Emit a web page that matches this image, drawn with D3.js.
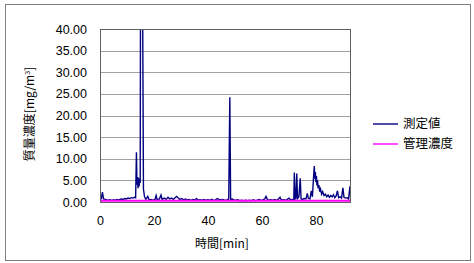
<!DOCTYPE html>
<html>
<head>
<meta charset="utf-8">
<script src="https://cdn.jsdelivr.net/npm/d3@7.9.0/dist/d3.min.js"></script>
<style>
  body { margin: 0; background: #fff; }
  text { font-family: "Liberation Sans", "Noto Sans CJK JP", sans-serif; fill: #000; }
</style>
</head>
<body>
<svg id="chart" width="474" height="263"></svg>
<script>
// measured concentration, [minute, mg/m3]
const measured = [
  [0, 0.6], [0.5, 0.8], [0.9, 2.3], [1.3, 0.7], [2, 0.6], [2.6, 0.5], [3.2, 0.4],
  [3.8, 0.5], [4.4, 0.3], [5, 0.5], [5.6, 0.4], [6.2, 0.6], [6.8, 0.5], [7.4, 0.6],
  [8, 0.7], [8.6, 0.6], [9.2, 0.8], [9.8, 0.7], [10.4, 0.9], [11, 0.8], [11.6, 1.0],
  [12.2, 0.9], [12.8, 1.1], [13.2, 1.0], [13.5, 11.5], [13.7, 4.0], [13.9, 5.8],
  [14.1, 3.2], [14.3, 5.6], [14.5, 3.6], [14.7, 5.2], [14.9, 4.4], [15.0, 45],
  [15.8, 45], [16.1, 3.0], [16.5, 1.2], [17, 0.6],
  [17.7, 1.3], [18.2, 0.5], [19, 0.6], [19.6, 0.4], [20.4, 0.6], [20.8, 1.5],
  [21.2, 0.5], [22, 0.7], [22.6, 1.6], [23, 0.6], [23.8, 0.9], [24.5, 0.6],
  [25.2, 1.1], [25.8, 0.7], [26.5, 0.9], [27.2, 0.6], [27.8, 1.0], [28.4, 1.3],
  [29, 0.9], [29.6, 0.6], [30.3, 0.8], [31, 0.5], [31.7, 0.7], [32.4, 0.5],
  [33, 0.6], [33.7, 0.4], [34.4, 0.6], [35, 0.5], [35.8, 0.8], [36.4, 0.4],
  [37, 0.5], [37.8, 0.4], [38.5, 0.6], [39.2, 0.4], [40, 0.5], [40.7, 0.4],
  [41.4, 0.6], [42, 0.4], [42.8, 0.5], [43.5, 0.8], [44.1, 0.6], [44.8, 0.5],
  [45.5, 0.6], [46.2, 0.4], [47, 0.5], [47.7, 0.7], [48.1, 24.2], [48.4, 0.6],
  [49, 0.7], [49.6, 0.5], [50.3, 0.4], [51, 0.5], [51.8, 0.3], [52.5, 0.4],
  [53.2, 0.3], [54, 0.4], [54.7, 0.3], [55.4, 0.4], [56.1, 0.3], [56.8, 0.5],
  [57.5, 0.3], [58.2, 0.4], [59, 0.6], [59.7, 0.4], [60.4, 0.5], [61, 0.7],
  [61.5, 1.3], [62, 0.6], [62.6, 0.4], [63.3, 0.5], [64, 0.4], [64.7, 0.6],
  [65.4, 0.4], [66, 0.6], [66.7, 1.1], [67.2, 0.4], [68, 0.5], [68.7, 0.4],
  [69.4, 0.6], [70, 0.9], [70.6, 0.5], [71.3, 0.6], [71.8, 0.5], [72.0, 6.8],
  [72.3, 0.7], [72.6, 0.8], [72.9, 6.6], [73.2, 0.8], [73.7, 1.2], [74.2, 5.5],
  [74.5, 0.7], [75, 0.6], [75.6, 0.8], [76.3, 0.7], [76.8, 2.0], [77.2, 0.8],
  [77.8, 0.7], [78.3, 2.6], [78.7, 1.2], [79.1, 5.5], [79.4, 8.3], [79.6, 5.4],
  [79.8, 6.9], [80, 4.6], [80.2, 6.0], [80.4, 3.8], [80.6, 5.0], [80.8, 3.2],
  [81.1, 3.9], [81.4, 2.4], [81.7, 3.0], [82.1, 1.8], [82.5, 2.4], [83, 1.5],
  [83.5, 1.8], [84, 1.2], [84.5, 1.6], [85, 1.1], [85.5, 1.5], [86, 1.2],
  [86.5, 1.7], [87, 1.0], [87.5, 1.4], [88, 2.6], [88.4, 1.0], [89, 1.2],
  [89.5, 0.9], [90, 3.3], [90.4, 1.1], [91, 0.9], [91.6, 1.0], [92.1, 0.7],
  [92.6, 3.6], [92.9, 0.9], [93, 1.8]
];

// control concentration
const control = [[0, 0.3], [93, 0.3]];

const yTicks = [0, 5, 10, 15, 20, 25, 30, 35, 40];
const xTicks = [0, 20, 40, 60, 80];

const seriesNames = ['測定値', '管理濃度'];
const seriesColors = ['#000080', '#ff00ff'];

const svg = d3.select('#chart');

const plot = { left: 100, top: 29, right: 351, bottom: 202 };

const x = d3.scaleLinear().domain([0, 93]).range([plot.left, plot.right]);
const y = d3.scaleLinear().domain([0, 40]).range([plot.bottom, plot.top]);

// outer chart border
svg.append('rect')
  .attr('x', 5.5).attr('y', 4.5)
  .attr('width', 465).attr('height', 256)
  .attr('fill', '#fff')
  .attr('stroke', '#808080');

svg.append('defs').append('clipPath').attr('id', 'clip')
  .append('rect')
  .attr('x', plot.left).attr('y', plot.top)
  .attr('width', plot.right - plot.left)
  .attr('height', plot.bottom - plot.top);

// gridlines
svg.append('g')
  .selectAll('line')
  .data(yTicks.slice(1, -1))
  .join('line')
  .attr('x1', plot.left).attr('x2', plot.right)
  .attr('y1', d => Math.round(y(d)) + 0.5)
  .attr('y2', d => Math.round(y(d)) + 0.5)
  .attr('stroke', '#a0a0a0');

// axes (labels only)
const yAxis = svg.append('g')
  .attr('transform', `translate(${plot.left - 13},0)`)
  .call(d3.axisLeft(y).tickValues(yTicks).tickFormat(d3.format('.2f')).tickSize(0));
yAxis.select('.domain').remove();
yAxis.selectAll('text').attr('x', 0).style('font-size', '12.5px');

const xAxis = svg.append('g')
  .attr('transform', `translate(0,${plot.bottom + 12})`)
  .call(d3.axisBottom(x).tickValues(xTicks).tickFormat(d3.format('d')).tickSize(0));
xAxis.select('.domain').remove();
xAxis.selectAll('text').attr('y', 2).style('font-size', '12.5px');

// lines
const line = d3.line().x(d => x(d[0])).y(d => y(d[1]));

const lines = svg.append('g').attr('clip-path', 'url(#clip)');
lines.append('path')
  .datum(measured)
  .attr('fill', 'none')
  .attr('stroke', seriesColors[0])
  .attr('stroke-width', 1.4)
  .attr('d', line);
lines.append('path')
  .datum(control)
  .attr('fill', 'none')
  .attr('stroke', seriesColors[1])
  .attr('stroke-width', 2)
  .attr('d', line);

// plot frame
svg.append('rect')
  .attr('x', plot.left + 0.5).attr('y', plot.top + 0.5)
  .attr('width', plot.right - plot.left - 1)
  .attr('height', plot.bottom - plot.top)
  .attr('fill', 'none')
  .attr('stroke', '#606060');

// axis titles
svg.append('text')
  .attr('transform', `translate(34,114) rotate(-90)`)
  .attr('text-anchor', 'middle')
  .style('font-size', '12px')
  .style('font-family', '"Noto Sans CJK JP", sans-serif')
  .text('質量濃度[mg/m')
  .append('tspan')
  .attr('dy', -4).style('font-size', '7px').text('3')
  .clone(true).attr('dy', 4).style('font-size', '12px').text(']');

svg.append('text')
  .attr('x', 222).attr('y', 248)
  .attr('text-anchor', 'middle')
  .style('font-size', '12px')
  .style('font-family', '"Noto Sans CJK JP", sans-serif')
  .text('時間[min]');

// legend
const legend = svg.append('g')
  .selectAll('g')
  .data(seriesNames)
  .join('g')
  .attr('transform', (d, i) => `translate(373,${124 + i * 20})`);
legend.append('line')
  .attr('x1', 0).attr('x2', 25)
  .attr('stroke', (d, i) => seriesColors[i])
  .attr('stroke-width', 1.4);
legend.append('text')
  .attr('x', 30).attr('dy', '0.35em')
  .style('font-size', '12.5px')
  .style('font-family', '"Noto Sans CJK JP", sans-serif')
  .text(d => d);
</script>
</body>
</html>
